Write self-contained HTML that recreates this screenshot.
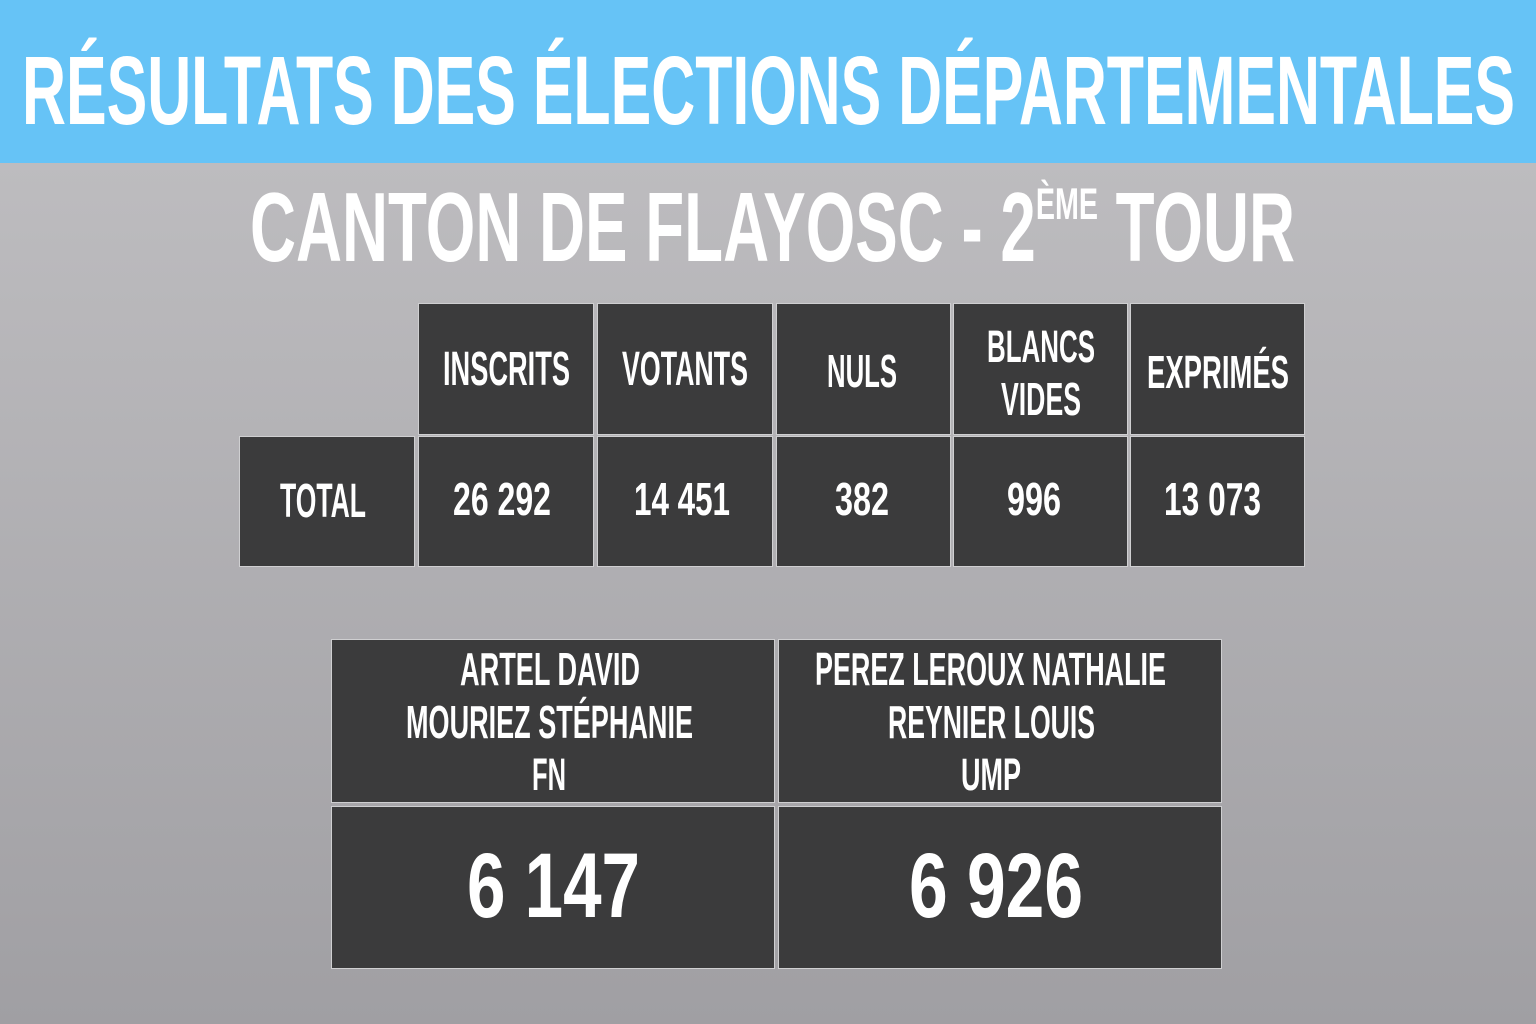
<!DOCTYPE html>
<html><head><meta charset="utf-8"><style>
html,body{margin:0;padding:0}
body{width:1536px;height:1024px;position:relative;overflow:hidden;background:linear-gradient(#bdbcbf 163px,#a09fa3 1024px);font-family:"Liberation Sans",sans-serif}
#hdr{position:absolute;left:0;top:0;width:1536px;height:163px;background:#66c3f6}
.c{position:absolute;background:#3b3b3c;box-sizing:border-box;border:1px solid #cfcfd1}
.t{position:absolute;color:#fff;font-weight:bold;line-height:1;white-space:nowrap;transform-origin:0 0}
sup{font-size:45%;vertical-align:0;position:relative;top:-0.95em}
</style></head><body>
<div id="hdr"></div>
<div class="c" style="left:418px;top:303px;width:176px;height:132px"></div>
<div class="c" style="left:597px;top:303px;width:176px;height:132px"></div>
<div class="c" style="left:776px;top:303px;width:175px;height:132px"></div>
<div class="c" style="left:953px;top:303px;width:175px;height:132px"></div>
<div class="c" style="left:1130px;top:303px;width:175px;height:132px"></div>
<div class="c" style="left:239px;top:436px;width:176px;height:131px"></div>
<div class="c" style="left:418px;top:436px;width:176px;height:131px"></div>
<div class="c" style="left:597px;top:436px;width:176px;height:131px"></div>
<div class="c" style="left:776px;top:436px;width:175px;height:131px"></div>
<div class="c" style="left:953px;top:436px;width:175px;height:131px"></div>
<div class="c" style="left:1130px;top:436px;width:175px;height:131px"></div>
<div class="c" style="left:331px;top:639px;width:444px;height:164px"></div>
<div class="c" style="left:778px;top:639px;width:444px;height:164px"></div>
<div class="c" style="left:331px;top:806px;width:444px;height:163px"></div>
<div class="c" style="left:778px;top:806px;width:444px;height:163px"></div>
<script>
var items=[
["RÉSULTATS DES ÉLECTIONS DÉPARTEMENTALES",22,1515,57,128],
["CANTON DE FLAYOSC - 2<sup>ÈME</sup> TOUR",250,1295,193,265],
["INSCRITS",443,570,353,388],["VOTANTS",622,748,353,388],["NULS",827,897,355,389],
["BLANCS",987,1095,331,364],["VIDES",1001,1081,383,417],["EXPRIMÉS",1147,1289,356,390],
["TOTAL",280,366,485,520],["26 292",453,551,483,517],["14 451",634,730,483,517],
["382",835,889,483,517],["996",1007,1061,483,517],["13 073",1164,1261,483,517],
["ARTEL DAVID",460,640,653,687],["MOURIEZ STÉPHANIE",406,693,706,740],["FN",532,566,759,792],
["PEREZ LEROUX NATHALIE",815,1166,653,687],["REYNIER LOUIS",888,1095,706,740],["UMP",961,1021,759,792],
["6 147",467,640,855,922],["6 926",909,1083,855,922]];
items.forEach(function(it){
var s=document.createElement('span');s.className='t';s.innerHTML=it[0];
var f=(it[4]-it[3])/0.729;s.style.fontSize=f+'px';
s.style.left=it[1]+'px';s.style.top=(it[3]-0.15*f)+'px';
document.body.appendChild(s);
var w=s.getBoundingClientRect().width;s.style.transform='scaleX('+((it[2]-it[1])/w)+')';
});
</script>
</body></html>
